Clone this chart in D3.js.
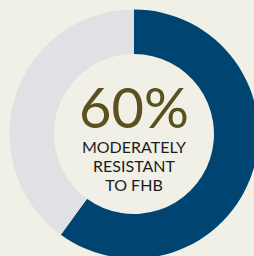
<!DOCTYPE html>
<html>
<head>
<meta charset="utf-8">
<script src="https://cdn.jsdelivr.net/npm/d3@7"></script>
<style>
  html, body { margin: 0; padding: 0; background: #f0f0e6; }
  svg { display: block; }
</style>
</head>
<body>
<div id="chart"></div>
<script>
var categories = ["Moderately resistant", "Other"];
var shares = [60, 40];
var bigLabel = "60%";
var captionLines = ["MODERATELY", "RESISTANT", "TO FHB"];

var width = 254, height = 256;
var cx = 134, cy = 134;
var outerR = 124.5, innerR = 80;

var color = d3.scaleOrdinal()
    .domain(categories)
    .range(["#004571", "#e0e1e4"]);

var svg = d3.select("#chart").append("svg")
    .attr("width", width)
    .attr("height", height);

svg.append("rect")
    .attr("width", width)
    .attr("height", height)
    .style("fill", "#f0f0e6");

var g = svg.append("g")
    .attr("transform", "translate(" + cx + "," + cy + ")");

var pie = d3.pie().sort(null).value(function(d) { return d; });
var arc = d3.arc().innerRadius(innerR).outerRadius(outerR);

g.selectAll("path")
    .data(pie(shares))
  .enter().append("path")
    .attr("d", arc)
    .style("fill", function(d, i) { return color(categories[i]); });

// big number
g.append("text")
    .attr("x", 0)
    .attr("y", -6)
    .style("font-family", "Lato")
    .style("font-size", "56px")
    .style("fill", "#5b501f")
    .style("text-anchor", "middle")
    .text(bigLabel);

// caption under it
g.selectAll(".cap")
    .data(captionLines)
  .enter().append("text")
    .attr("class", "cap")
    .attr("x", 0)
    .attr("y", function(d, i) { return 19 + i * 19; })
    .style("font-family", "Lato")
    .style("font-size", "16px")
    .style("fill", "#1c1c1c")
    .style("text-anchor", "middle")
    .text(function(d) { return d; });
</script>
</body>
</html>
